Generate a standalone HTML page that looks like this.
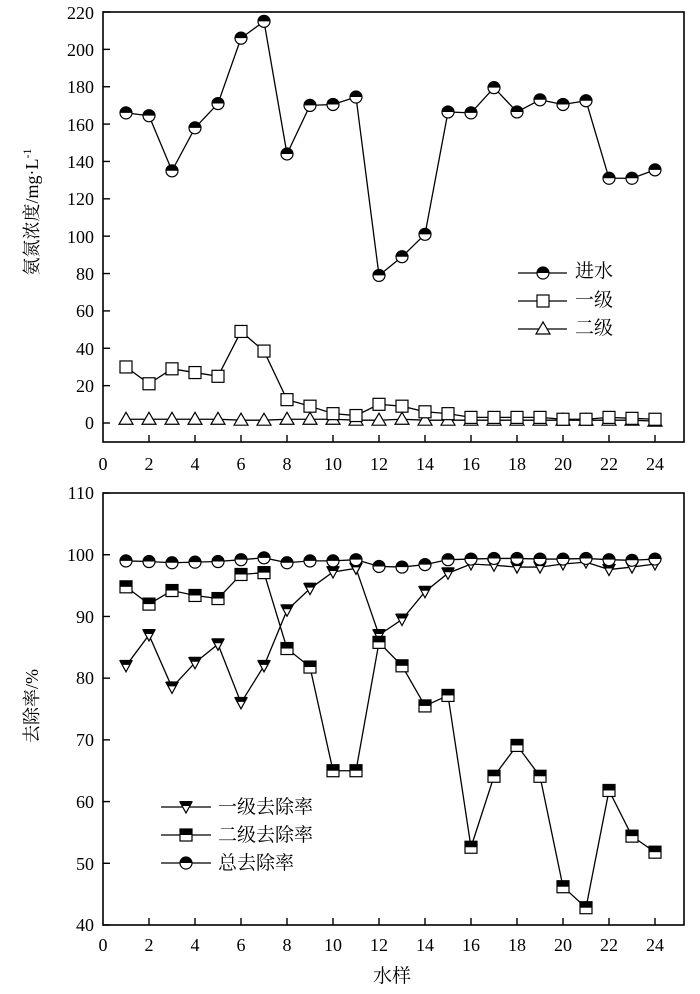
<!DOCTYPE html>
<html><head><meta charset="utf-8"><style>
html,body{margin:0;padding:0;background:#fff;}
svg{display:block;font-family:"Liberation Serif","Noto Serif CJK SC",serif;}
</style></head><body>
<svg id="s" width="700" height="994" viewBox="0 0 700 994" xmlns="http://www.w3.org/2000/svg">
<defs>
<clipPath id="ct"><rect x="0" y="0" width="100" height="1"/></clipPath>
</defs>
<g fill="none" stroke="#000" stroke-width="1.6">
<rect x="103" y="12" width="581" height="430"/>
<rect x="103" y="493" width="581" height="432"/>
</g>
<g font-size="18" fill="#000" text-anchor="end">
<text x="94" y="429">0</text><text x="94" y="392">20</text><text x="94" y="355">40</text><text x="94" y="317">60</text><text x="94" y="280">80</text><text x="94" y="243">100</text><text x="94" y="205">120</text><text x="94" y="168">140</text><text x="94" y="131">160</text><text x="94" y="93">180</text><text x="94" y="56">200</text><text x="94" y="19">220</text>
<text x="94" y="931">40</text><text x="94" y="870">50</text><text x="94" y="808">60</text><text x="94" y="746">70</text><text x="94" y="684">80</text><text x="94" y="623">90</text><text x="94" y="561">100</text><text x="94" y="499">110</text>
</g>
<g font-size="18" fill="#000" text-anchor="middle">
<text x="103" y="470">0</text><text x="149" y="470">2</text><text x="195" y="470">4</text><text x="241" y="470">6</text><text x="287" y="470">8</text><text x="333" y="470">10</text><text x="379" y="470">12</text><text x="425" y="470">14</text><text x="471" y="470">16</text><text x="517" y="470">18</text><text x="563" y="470">20</text><text x="609" y="470">22</text><text x="655" y="470">24</text>
<text x="103" y="951">0</text><text x="149" y="951">2</text><text x="195" y="951">4</text><text x="241" y="951">6</text><text x="287" y="951">8</text><text x="333" y="951">10</text><text x="379" y="951">12</text><text x="425" y="951">14</text><text x="471" y="951">16</text><text x="517" y="951">18</text><text x="563" y="951">20</text><text x="609" y="951">22</text><text x="655" y="951">24</text>
<text x="392" y="982" font-size="19">水样</text>
<text transform="translate(38,212) rotate(-90)" font-size="18">氨氮浓度/mg·L<tspan font-size="12" dy="-7">-1</tspan></text>
<text transform="translate(38,706) rotate(-90)" font-size="18">去除率/%</text>
</g>
<g font-size="19" fill="#000">
<text x="575" y="277">进水</text><text x="575" y="306">一级</text><text x="575" y="334">二级</text>
<text x="218" y="813">一级去除率</text><text x="218" y="841">二级去除率</text><text x="218" y="869">总去除率</text>
</g>
<g id="dyn"></g>
</svg>
<script>
var NS="http://www.w3.org/2000/svg",g=document.getElementById("dyn");
function el(t,a){var e=document.createElementNS(NS,t);for(var k in a)e.setAttribute(k,a[k]);g.appendChild(e);return e;}
function X(v){return 103+23*v;}
function Yt(v){return 423-v*411/220;}
function Yb(v){return 925-(v-40)*6.171;}
// ticks
for(var i=2;i<=24;i+=2){el("line",{x1:X(i),x2:X(i),y1:442,y2:435,stroke:"#000","stroke-width":1.4});el("line",{x1:X(i),x2:X(i),y1:925,y2:918,stroke:"#000","stroke-width":1.4});}
for(var v=0;v<=220;v+=20){el("line",{x1:103,x2:110,y1:Yt(v),y2:Yt(v),stroke:"#000","stroke-width":1.4});}
for(var v=40;v<=110;v+=10){el("line",{x1:103,x2:110,y1:Yb(v),y2:Yb(v),stroke:"#000","stroke-width":1.4});}
function line(d,Y){var p="";d.forEach(function(v,i){p+=(i?"L":"M")+X(i+1)+" "+Y(v);});el("path",{d:p,fill:"none",stroke:"#000","stroke-width":1.3});}
function circ(x,y){el("circle",{cx:x,cy:y,r:6,fill:"#fff",stroke:"#000","stroke-width":1.2});el("path",{d:"M"+(x-6)+" "+y+"A6 6 0 0 1 "+(x+6)+" "+y+"Z",fill:"#000"});}
function sqr(x,y,half){el("rect",{x:x-6,y:y-6,width:12,height:12,fill:"#fff",stroke:"#000","stroke-width":1.2});if(half)el("rect",{x:x-6,y:y-6,width:12,height:6,fill:"#000"});}
function tri(x,y){el("path",{d:"M"+(x-6)+" "+(y-5)+"L"+(x+6)+" "+(y-5)+"L"+x+" "+(y+6)+"Z",fill:"#fff",stroke:"#000","stroke-width":1.2});}
function tri2(x,y){el("path",{d:"M"+(x-6)+" "+(y-6)+"L"+(x+6)+" "+(y-6)+"L"+(x+3.5)+" "+(y-1)+"L"+(x-3.5)+" "+(y-1)+"Z",fill:"#000"});}
function triUp(x,y){el("path",{d:"M"+(x-7)+" "+(y+5)+"L"+(x+7)+" "+(y+5)+"L"+x+" "+(y-7)+"Z",fill:"#fff",stroke:"#000","stroke-width":1.2});}
var a=[166,164.5,135,158,171,206,215,144,170,170.5,174.5,79,89,101,166.5,166,179.5,166.5,173,170.5,172.5,131,131,135.5];
var b=[30,21,29,27,25,49,38.5,12.5,9,5,4,10,9,6,5,3,3,3,3,2,2,3,2.5,2];
var c=[2,2,2,2,2,1.5,1.5,2,2,2,1.5,1.5,2,1.5,1.5,1.5,1.5,1.5,1.5,1.5,1.5,1.5,1.5,1];
line(c,Yt);line(b,Yt);line(a,Yt);
c.forEach(function(v,i){triUp(X(i+1),Yt(v));});
b.forEach(function(v,i){sqr(X(i+1),Yt(v),false);});
a.forEach(function(v,i){circ(X(i+1),Yt(v));});
var d=[82,87,78.5,82.5,85.5,76,82,91,94.5,97.2,97.8,87,89.5,94,97,98.5,98.3,98,98,98.5,98.8,97.6,98,98.5];
var e=[94.8,92,94.2,93.4,92.9,96.8,97.1,84.8,81.8,65,65,85.8,82,75.5,77.2,52.6,64.1,69.1,64.1,46.2,42.8,61.8,54.4,51.8];
var f=[99,98.9,98.7,98.8,98.9,99.2,99.5,98.7,99,99,99.2,98.1,98,98.4,99.2,99.3,99.4,99.4,99.3,99.3,99.4,99.2,99.1,99.3];
line(d,Yb);line(e,Yb);line(f,Yb);
d.forEach(function(v,i){tri(X(i+1),Yb(v));tri2(X(i+1),Yb(v));});
e.forEach(function(v,i){sqr(X(i+1),Yb(v),true);});
f.forEach(function(v,i){circ(X(i+1),Yb(v));});
// legends
[[273,0],[301,1],[329,2]].forEach(function(r){el("line",{x1:518,x2:567,y1:r[0],y2:r[0],stroke:"#000","stroke-width":1.3});if(r[1]==0)circ(543,r[0]);else if(r[1]==1)sqr(543,r[0],false);else triUp(543,r[0]);});
[[807,0],[835,1],[863,2]].forEach(function(r){el("line",{x1:161,x2:211,y1:r[0],y2:r[0],stroke:"#000","stroke-width":1.3});if(r[1]==0){tri(186,r[0]);tri2(186,r[0]);}else if(r[1]==1)sqr(186,r[0],true);else circ(186,r[0]);});
</script>
</body></html>
